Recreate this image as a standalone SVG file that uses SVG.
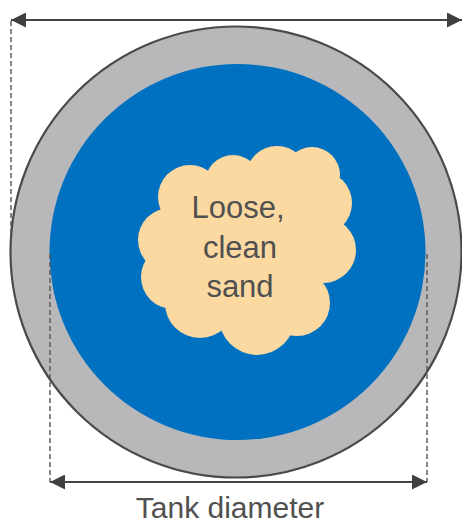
<svg xmlns="http://www.w3.org/2000/svg" width="462" height="524" viewBox="0 0 462 524">
<defs>
<style>
.dim{stroke:#444;stroke-width:1.8;fill:none}
.dash{stroke:#555;stroke-width:1.4;stroke-dasharray:5,3;fill:none}
.lbl{font-family:"Liberation Sans",Arial,sans-serif;fill:#505050;text-anchor:middle}
</style>
<marker id="ah" viewBox="0 0 10 10" refX="10" refY="5" markerWidth="15" markerHeight="15" markerUnits="userSpaceOnUse" orient="auto-start-reverse">
<path d="M0,0 L10,5 L0,10 Z" fill="#404040"/>
</marker>
</defs>
<rect width="462" height="524" fill="#fff"/>
<g id="tank">
<circle cx="236" cy="252" r="225.5" fill="#B8B8BA" stroke="#4a4a4a" stroke-width="2.2"/>
<circle cx="237.5" cy="252" r="188" fill="#0070C0"/>
</g>
<g id="sand">
<g fill="#FCD9A1">
<circle cx="190" cy="197" r="32"/>
<circle cx="233" cy="183" r="28"/>
<circle cx="277" cy="177" r="31"/>
<circle cx="312" cy="175" r="28"/>
<circle cx="320" cy="203" r="32"/>
<circle cx="323" cy="250" r="33"/>
<circle cx="297" cy="303" r="33"/>
<circle cx="257" cy="317" r="38"/>
<circle cx="200" cy="303" r="35"/>
<circle cx="173" cy="277" r="32"/>
<circle cx="170" cy="240" r="32"/>
<circle cx="250" cy="250" r="72"/>
</g>
<text class="lbl" font-size="31" x="238" y="218">Loose,</text>
<text class="lbl" font-size="31" x="240" y="258">clean</text>
<text class="lbl" font-size="31" x="240" y="297">sand</text>
</g>
<g id="connectors">
<line class="dash" x1="11" y1="21" x2="11" y2="240"/>
<line class="dash" x1="50" y1="254" x2="50" y2="482"/>
<line class="dash" x1="427" y1="254" x2="427" y2="482"/>
<line class="dim" x1="11" y1="20" x2="462" y2="20" marker-start="url(#ah)" marker-end="url(#ah)"/>
<line class="dim" x1="50" y1="482" x2="427" y2="482" marker-start="url(#ah)" marker-end="url(#ah)"/>
</g>
<g id="label">
<text class="lbl" font-size="30" x="230" y="518">Tank diameter</text>
</g>
</svg>
